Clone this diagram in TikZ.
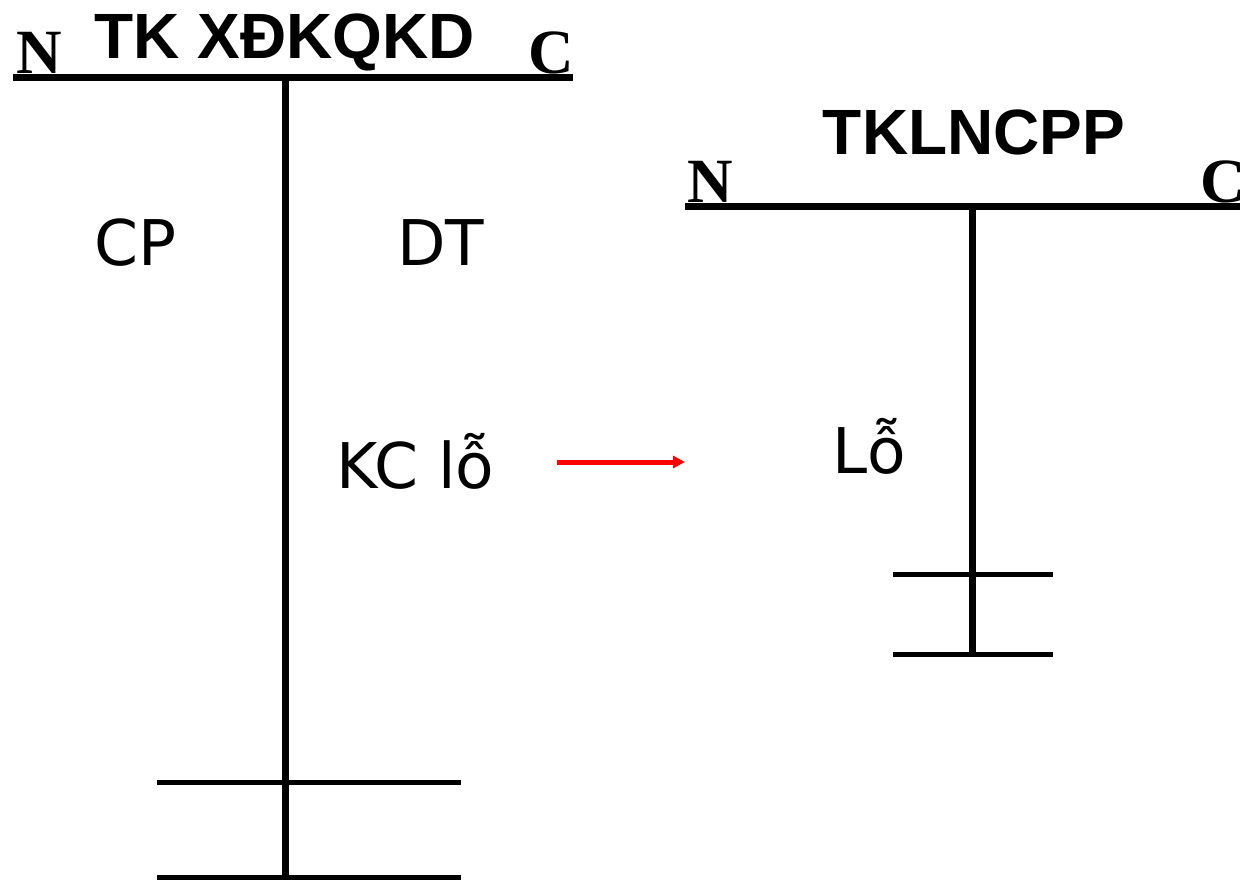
\documentclass[tikz,border=0pt]{standalone}
\usepackage{fontspec}
\setmainfont{Liberation Serif}
\newfontfamily\titlefont{Liberation Sans}
\newfontfamily\entryfont{DejaVu Sans}
\usepackage{tikz}
\usetikzlibrary{arrows.meta}

\begin{document}
\begin{tikzpicture}[x=1pt, y=-1pt,
  acct/.style={line width=7pt},
  tick/.style={line width=5pt},
  title/.style={font=\titlefont\bfseries\fontsize{64}{64}\selectfont, inner sep=0pt, anchor=base},
  side/.style={font=\bfseries\fontsize{63}{63}\selectfont, inner sep=0pt},
  entry/.style={font=\entryfont\fontsize{63}{63}\selectfont, inner sep=0pt, anchor=base west},
  arrow/.style={-{Triangle[length=12pt, width=12pt]}, line width=5pt, red}
]
\useasboundingbox (0,0) rectangle (1240,879);
% left account
\coordinate (lh) at (285,77);
\draw[acct] (13,77) -- (573,77);
\draw[acct] (lh) -- (285,879);
\draw[tick] (157,782) -- (461,782);
\draw[tick] (157,877) -- (461,877);
\node[title] (tl) at (285,58) {TK XĐKQKD};
\node[side, anchor=base west] (nl) at (16,73) {N};
\node[side, anchor=base east] (cl) at (574,73) {C};
\node[entry] (cp) at (94,265) {CP};
\node[entry] (dt) at (397,265) {DT};
\node[entry] (kc) at (336,488) {KC lỗ};
% right account
\coordinate (rh) at (972,206);
\draw[acct] (685,206) -- (1240,206);
\draw[acct] (rh) -- (972,654);
\draw[tick] (893,574) -- (1053,574);
\draw[tick] (893,654) -- (1053,654);
\node[title] (tr) at (974,154) {TKLNCPP};
\node[side, anchor=base west] (nr) at (687,202) {N};
\node[side, anchor=base west] (cr) at (1200,202) {C};
\node[entry] (lo) at (832,473) {Lỗ};
% transfer
\coordinate (from) at (557,462);
\coordinate (to) at (685,462);
\draw[arrow] (from) -- (to);
\end{tikzpicture}
\end{document}
